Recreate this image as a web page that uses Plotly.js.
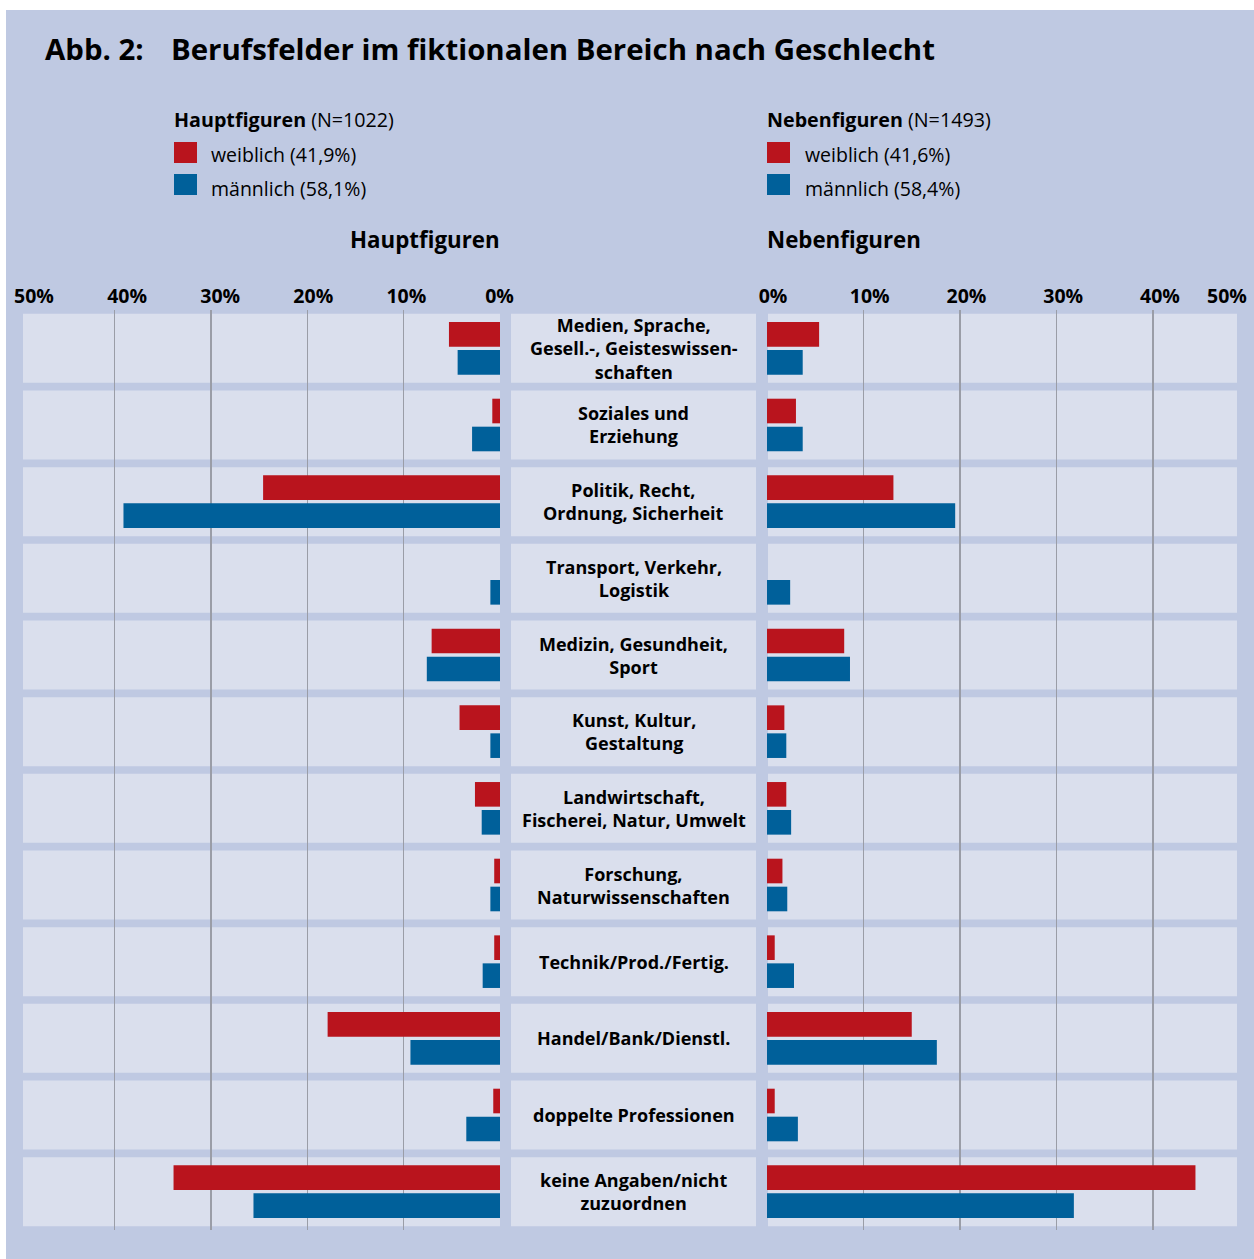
<!DOCTYPE html>
<html>
<head>
<meta charset="utf-8">
<script src="https://cdn.plot.ly/plotly-3.0.1.min.js"></script>
<style>
  html, body { margin: 0; padding: 0; background: #ffffff; }
  #chart { width: 1254px; height: 1259px; }
</style>
</head>
<body>
<div id="chart"></div>
<script>
// ---------------- DATA ----------------
const categories = [
  "Medien, Sprache,<br>Gesell.-, Geisteswissen-<br>schaften",
  "Soziales und<br>Erziehung",
  "Politik, Recht,<br>Ordnung, Sicherheit",
  "Transport, Verkehr,<br>Logistik",
  "Medizin, Gesundheit,<br>Sport",
  "Kunst, Kultur,<br>Gestaltung",
  "Landwirtschaft,<br>Fischerei, Natur, Umwelt",
  "Forschung,<br>Naturwissenschaften",
  "Technik/Prod./Fertig.",
  "Handel/Bank/Dienstl.",
  "doppelte Professionen",
  "keine Angaben/nicht<br>zuzuordnen"
];
// Hauptfiguren (N=1022), percent
const hauptWeiblich  = [5.3, 0.8, 24.6, 0.0, 7.1, 4.2, 2.6, 0.6, 0.6, 17.9, 0.7, 33.9];
const hauptMaennlich = [4.4, 2.9, 39.1, 1.0, 7.6, 1.0, 1.9, 1.0, 1.8, 9.3, 3.5, 25.6];
// Nebenfiguren (N=1493), percent
const nebenWeiblich  = [5.4, 3.0, 13.1, 0.0, 8.0, 1.8, 2.0, 1.6, 0.8, 15.0, 0.8, 44.4];
const nebenMaennlich = [3.7, 3.7, 19.5, 2.4, 8.6, 2.0, 2.5, 2.1, 2.8, 17.6, 3.2, 31.8];

const tickValues = [0, 10, 20, 30, 40, 50];
const tickLabels = ["0%", "10%", "20%", "30%", "40%", "50%"];
const gridValues = [10, 20, 30, 40];

const titleNumber = "Abb. 2:";
const titleText = "Berufsfelder im fiktionalen Bereich nach Geschlecht";
const groupNames = ["Hauptfiguren", "Nebenfiguren"];
const groupN = ["(N=1022)", "(N=1493)"];
const seriesNames = ["weiblich", "männlich"];
const hauptShares = ["(41,9%)", "(58,1%)"];
const nebenShares = ["(41,6%)", "(58,4%)"];

// ---------------- STYLE ----------------
const W = 1254, H = 1259;
const RED = "#b9141d", BLUE = "#00609a";
const BG = "#bfc9e2", LIGHT = "#dadfed", GRID = "#9a9da7";
const FONT = "Open Sans, Noto Sans, DejaVu Sans, sans-serif";

const px = x => x / W;
const py = y => 1 - y / H;

// pixel geometry of the panels
const L0 = 23, L1 = 500;      // left bar panel
const M0 = 511, M1 = 756;     // label column
const R0 = 767, R1 = 1237;    // right bar panel
const TOP = 310, BOT = 1230;  // plot area vertical
const pxPctL = 9.63, pxPctR = 9.65;       // scale of bars/grid
const labL0 = 499.5, pxLabL = 9.31;        // left tick label scale
const labR0 = 773, pxLabR = 9.675;         // right tick label scale

const catIdx = categories.map((c, i) => i);
const traces = [
  { type: "bar", orientation: "h", y: catIdx, x: hauptWeiblich,
    xaxis: "x", yaxis: "y", marker: { color: RED }, name: seriesNames[0], hoverinfo: "x" },
  { type: "bar", orientation: "h", y: catIdx, x: hauptMaennlich,
    xaxis: "x", yaxis: "y", marker: { color: BLUE }, name: seriesNames[1], hoverinfo: "x" },
  { type: "bar", orientation: "h", y: catIdx, x: nebenWeiblich,
    xaxis: "x2", yaxis: "y", marker: { color: RED }, name: seriesNames[0], hoverinfo: "x" },
  { type: "bar", orientation: "h", y: catIdx, x: nebenMaennlich,
    xaxis: "x2", yaxis: "y", marker: { color: BLUE }, name: seriesNames[1], hoverinfo: "x" },
  // empty helper traces so that the tick-label axes are drawn
  { type: "scatter", mode: "markers", x: [], y: [], xaxis: "x3", yaxis: "y", hoverinfo: "skip" },
  { type: "scatter", mode: "markers", x: [], y: [], xaxis: "x4", yaxis: "y", hoverinfo: "skip" }
];

const shapes = [];
// outer background
shapes.push({ type: "rect", xref: "paper", yref: "paper", x0: px(6), x1: 1, y0: 0, y1: py(10),
  fillcolor: BG, line: { width: 0 }, layer: "below" });
// row panels
categories.forEach((c, i) => {
  [[L0, L1], [M0, M1], [R0 + 1, R1]].forEach(([a, b]) => {
    shapes.push({ type: "rect", xref: "paper", yref: "y", x0: px(a), x1: px(b),
      y0: i - 0.45, y1: i + 0.45, fillcolor: LIGHT, line: { width: 0 }, layer: "below" });
  });
});
// legend swatches
[[174, 142, RED], [174, 174, BLUE], [767, 142, RED], [767, 174, BLUE]].forEach(([x, y, col]) => {
  shapes.push({ type: "rect", xref: "paper", yref: "paper", x0: px(x), x1: px(x + 23),
    y0: py(y + 21), y1: py(y), fillcolor: col, line: { width: 0 }, layer: "above" });
});

const ann = [];
const txt = (text, x, y, size, xanchor, extra) => Object.assign({
  text, xref: "paper", yref: "paper", x: px(x), y: py(y), xanchor, yanchor: "middle",
  showarrow: false, font: { family: FONT, size, color: "#000" }
}, extra || {});

ann.push(txt("<b>" + titleNumber + "</b>", 43, 49, 29.4, "left"));
ann.push(txt("<b>" + titleText + "</b>", 169, 49, 29.4, "left"));

ann.push(txt("<b>" + groupNames[0] + "</b> " + groupN[0], 172, 120, 19.7, "left"));
ann.push(txt(seriesNames[0] + " " + hauptShares[0], 209, 155, 19.5, "left"));
ann.push(txt(seriesNames[1] + " " + hauptShares[1], 209, 189, 19.5, "left"));
ann.push(txt("<b>" + groupNames[1] + "</b> " + groupN[1], 765, 120, 19.7, "left"));
ann.push(txt(seriesNames[0] + " " + nebenShares[0], 803, 155, 19.5, "left"));
ann.push(txt(seriesNames[1] + " " + nebenShares[1], 803, 189, 19.5, "left"));

ann.push(txt("<b>" + groupNames[0] + "</b>", 502, 240, 22.3, "right"));
ann.push(txt("<b>" + groupNames[1] + "</b>", 765, 240, 22.3, "left"));

// right-most 50% label (beyond the right tick-label axis range)
ann.push(txt("<b>" + tickLabels[5] + "</b>", 1227, 295.5, 19.5, "center"));

// category labels in the middle column
categories.forEach((c, i) => {
  ann.push({ text: "<b>" + c + "</b>", xref: "paper", yref: "y", x: px((M0 + M1) / 2), y: i,
    xanchor: "center", yanchor: "middle", showarrow: false, align: "center",
    font: { family: FONT, size: 18, color: "#000" } });
});

const gridAxis = (domain, range) => ({
  domain, range, anchor: "y", showgrid: true, gridcolor: GRID, gridwidth: 1.3,
  tickmode: "array", tickvals: gridValues, showticklabels: false, ticks: "",
  zeroline: false, showline: false, fixedrange: true
});
const labelAxis = (over, range) => ({
  overlaying: over, side: "top", anchor: "y", range, showgrid: false, zeroline: false,
  showline: false, ticks: "", tickmode: "array", tickvals: tickValues, ticktext: tickLabels,
  tickfont: { family: FONT, size: 19.5, color: "#000", weight: 700 }, ticklabelstandoff: 2,
  fixedrange: true
});

const layout = {
  width: W, height: H,
  margin: { l: 0, r: 0, t: 0, b: 0, pad: 0 },
  paper_bgcolor: "#ffffff", plot_bgcolor: "rgba(0,0,0,0)",
  showlegend: false,
  barmode: "group", bargap: 0.27, bargroupgap: 0.12,
  font: { family: FONT, color: "#000" },
  xaxis: gridAxis([px(L0), px(L1)], [(L1 - L0) / pxPctL, 0]),
  xaxis2: gridAxis([px(R0), px(R1)], [0, (R1 - R0) / pxPctR]),
  xaxis3: labelAxis("x", [(labL0 - L0) / pxLabL, (labL0 - L1) / pxLabL]),
  xaxis4: labelAxis("x2", [(R0 - labR0) / pxLabR, (R1 - labR0) / pxLabR]),
  yaxis: { domain: [py(BOT), py(TOP)], range: [categories.length - 0.5, -0.5],
    showgrid: false, zeroline: false, showticklabels: false, ticks: "", showline: false,
    fixedrange: true },
  shapes, annotations: ann
};

Plotly.newPlot("chart", traces, layout, { displayModeBar: false, staticPlot: true });
</script>
</body>
</html>
